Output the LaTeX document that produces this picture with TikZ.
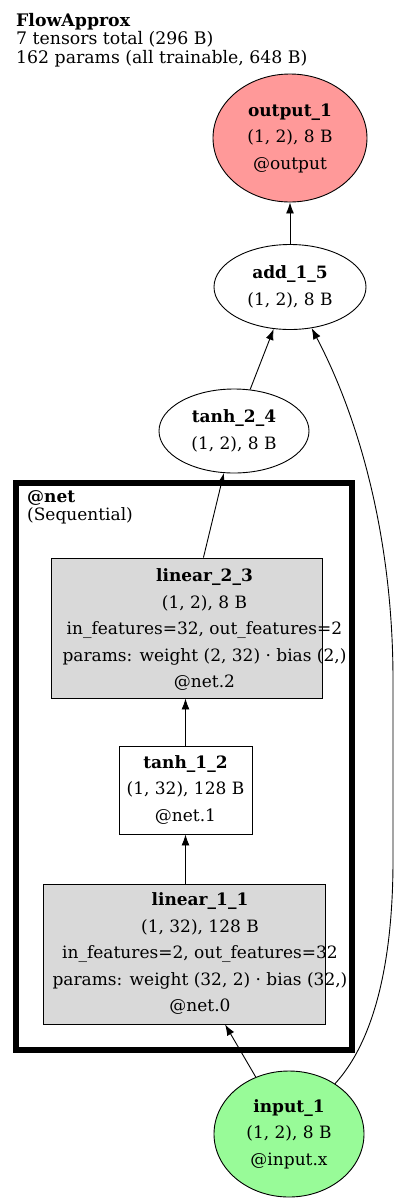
\documentclass[tikz,border=0pt]{standalone}
\usepackage{fontspec}
\setmainfont{DejaVu Serif}
\usetikzlibrary{shapes.geometric,arrows.meta}

\definecolor{outred}{RGB}{255,153,153}
\definecolor{ingreen}{RGB}{152,251,152}
\definecolor{laygray}{RGB}{217,217,217}

\tikzset{
  tensor/.style={ellipse, draw=black, line width=0.9pt, align=center},
  layer/.style={rectangle, draw=black, line width=0.9pt, fill=laygray},
  actbox/.style={rectangle, draw=black, line width=0.9pt, fill=white, align=center},
  lines/.style={align=center, inner sep=0pt},
  flow/.style={-{Latex[length=11pt,width=8pt]}, line width=0.9pt},
}

\begin{document}
\begin{tikzpicture}[x=1pt, y=-1pt, font=\fontsize{17}{26.5}\selectfont]
    \useasboundingbox (0,0) rectangle (400,1203);

    % summary in the corner
    \node[anchor=north west, inner sep=0pt, align=left, font=\fontsize{17.3}{18.5}\selectfont] (head) at (16,13)
        {\textbf{FlowApprox}\\7 tensors total (296 B)\\162 params (all trainable, 648 B)};

    % the @net module
    \node[draw=black, line width=6pt, minimum width=336pt, minimum height=567pt] (net) at (184,766.5) {};
    \node[anchor=north west, inner sep=0pt, align=left, font=\fontsize{17}{18.5}\selectfont] (netlabel) at (27,490)
        {\textbf{@net}\\(Sequential)};

    % tensors
    \node[tensor, fill=outred, minimum width=154pt, minimum height=128pt] (out1) at (290,138)
        {\textbf{output\_1}\\(1, 2), 8 B\\@output};
    \node[tensor, fill=white, minimum width=152pt, minimum height=85pt] (add15) at (290,287)
        {\textbf{add\_1\_5}\\(1, 2), 8 B};
    \node[tensor, fill=white, minimum width=150pt, minimum height=84pt] (tanh24) at (234,431)
        {\textbf{tanh\_2\_4}\\(1, 2), 8 B};
    \node[tensor, fill=ingreen, minimum width=150pt, minimum height=126pt] (in1) at (289,1134)
        {\textbf{input\_1}\\(1, 2), 8 B\\@input.x};

    % layers inside @net
    \node[layer, minimum width=271pt, minimum height=140pt] (lin23) at (186.5,628) {};
    \node[lines] (lin23txt) at ([xshift=18pt,yshift=-2pt]lin23.center)
        {\textbf{linear\_2\_3}\\(1, 2), 8 B\\in\_features=32, out\_features=2\\params: weight (2, 32) · bias (2,)\\@net.2};
    \node[actbox, minimum width=133pt, minimum height=88pt] (tanh12) at (185.5,790)
        {\textbf{tanh\_1\_2}\\(1, 32), 128 B\\@net.1};
    \node[layer, minimum width=282pt, minimum height=140pt] (lin11) at (184,954) {};
    \node[lines] (lin11txt) at ([xshift=16pt]lin11.center)
        {\textbf{linear\_1\_1}\\(1, 32), 128 B\\in\_features=2, out\_features=32\\params: weight (32, 2) · bias (32,)\\@net.0};

    % edges
    \draw[flow] (in1) -- (lin11);
    \draw[flow] (lin11.north -| tanh12) -- (tanh12);
    \draw[flow] (tanh12) -- (tanh12.north |- lin23.south);
    \draw[flow] (lin23) -- (tanh24);
    \draw[flow] (tanh24) -- (add15);
    \draw[flow] (add15) -- (out1);
    \draw[flow] (in1) .. controls (375,1040) and (393,960) .. (393,860)
        -- (393,680) .. controls (393,540) and (360,420) .. (add15);
\end{tikzpicture}
\end{document}
